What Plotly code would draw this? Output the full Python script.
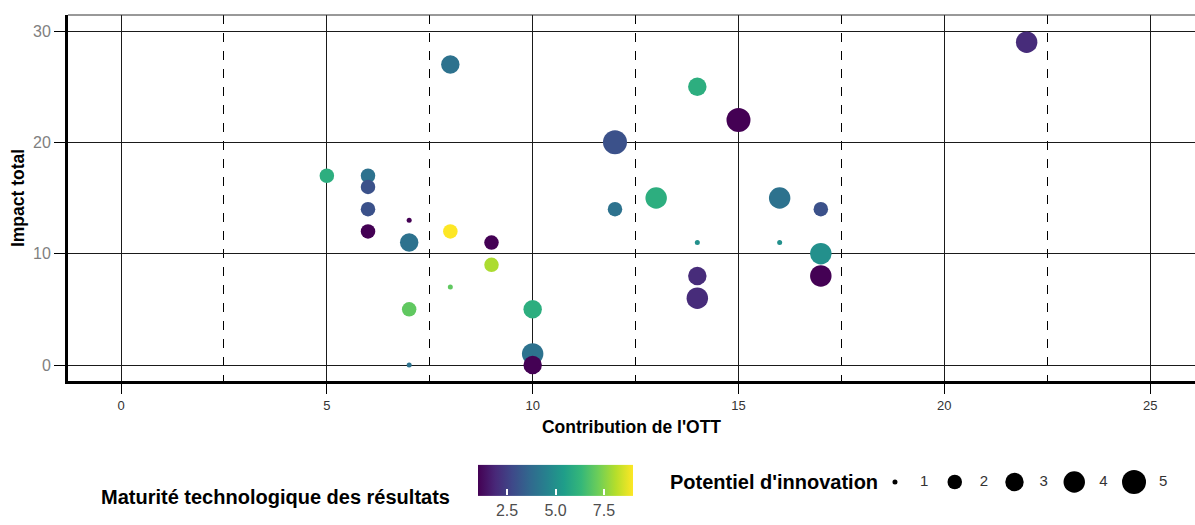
import numpy as np
import plotly.graph_objects as go

# ---------------- data ----------------
contribution = [5, 6, 6, 6, 6, 7, 7, 7, 7, 8, 8, 8, 9, 9, 10, 10, 10, 12, 12, 13, 14, 14, 14, 14, 15, 16, 16, 17, 17, 17, 22]
impact = [17, 17, 16, 14, 12, 13, 11, 5, 0, 27, 12, 7, 11, 9, 5, 1, 0, 20, 14, 15, 25, 11, 8, 6, 22, 15, 11, 14, 10, 8, 29]
innovation = [2, 2, 2, 2, 2, 1, 3, 2, 1, 3, 2, 1, 2, 2, 3, 4, 3, 5, 2, 4, 3, 1, 3, 4, 5, 4, 1, 2, 4, 4, 4]
maturity = [6, 4, 3, 3, 1, 1, 4, 7, 4, 4, 9, 7, 1, 8, 6, 4, 1, 3, 4, 6, 6, 5, 2, 2, 1, 4, 5, 3, 5, 1, 2]

size_levels = [1, 2, 3, 4, 5]
x_ticks = [0, 5, 10, 15, 20, 25]
y_ticks = [0, 10, 20, 30]
cb_ticks = [2.5, 5.0, 7.5]
cb_ticktext = ["2.5", "5.0", "7.5"]

x_title = "Contribution de l'OTT"
y_title = "Impact total"
color_title = "Maturité technologique des résultats"
size_title = "Potentiel d'innovation"

# ---------------- layout helpers ----------------
W, H = 1195, 525
ML, MR, MT, MB = 68, 0, 15, 5
PW, PH = W - ML - MR, H - MT - MB


def px_x(px):
    return (px - ML) / PW


def px_y(py):
    return (H - MB - py) / PH


def diam(v):
    v = np.asarray(v, dtype=float)
    return 5 + 19 * np.sqrt((v - 1) / 4)


FONT = "Liberation Sans, Arial, sans-serif"

fig = go.Figure()

fig.add_trace(go.Scatter(
    x=contribution, y=impact, mode="markers",
    marker=dict(
        size=diam(innovation), color=maturity, colorscale="Viridis",
        cmin=1, cmax=9, opacity=1, line=dict(width=0),
        colorbar=dict(
            orientation="h", x=px_x(555.5), xanchor="center",
            y=px_y(495), yanchor="middle",
            len=155, lenmode="pixels", thickness=31, thicknessmode="pixels",
            outlinewidth=0, xpad=0, ypad=0,
            tickvals=cb_ticks, ticktext=cb_ticktext,
            ticks="inside", ticklen=6, tickcolor="white", tickwidth=1.5,
            tickfont=dict(family=FONT, size=16, color="#4d4d4d"),
        ),
    ),
    showlegend=False, hoverinfo="skip",
))

# size legend (auxiliary axes)
fig.add_trace(go.Scatter(
    x=size_levels, y=[0] * len(size_levels), xaxis="x2", yaxis="y2",
    mode="markers",
    marker=dict(size=diam(size_levels), color="#000000", opacity=1, line=dict(width=0)),
    showlegend=False, hoverinfo="skip",
))
fig.add_trace(go.Scatter(
    x=[k + 0.49 for k in size_levels], y=[0] * len(size_levels), xaxis="x2", yaxis="y2",
    mode="text", text=[str(k) for k in size_levels], textposition="middle center",
    textfont=dict(family=FONT, size=15, color="#333333"),
    showlegend=False, hoverinfo="skip",
))

axis_common = dict(
    showgrid=True, gridcolor="#1a1a1a", gridwidth=1, zeroline=False,
    showline=True, linecolor="black", linewidth=3, automargin=False,
    ticks="outside", tickcolor="black", tickwidth=1,
)

fig.update_layout(
    width=W, height=H,
    margin=dict(l=ML, r=MR, t=MT, b=MB, autoexpand=False),
    paper_bgcolor="white", plot_bgcolor="white",
    font=dict(family=FONT),
    hovermode=False,
    xaxis=dict(
        **axis_common,
        range=[-1.288, 26.09], domain=[0, 1], anchor="y",
        tickvals=x_ticks, ticklen=10,
        tickfont=dict(family=FONT, size=13, color="#333333"),
        minor=dict(dtick=2.5, tick0=0, showgrid=True, griddash="dash",
                   gridcolor="black", gridwidth=1, ticks=""),
        title=dict(text="<b>" + x_title + "</b>", font=dict(family=FONT, size=17.5, color="black"),
                   standoff=10),
    ),
    yaxis=dict(
        **axis_common,
        range=[-1.437, 31.44], domain=[px_y(381), 1], anchor="x",
        tickvals=y_ticks, ticklen=11,
        tickfont=dict(family=FONT, size=16, color="#7f7f7f"),
        title=dict(text="<b>" + y_title + "</b>", font=dict(family=FONT, size=17.5, color="black"),
                   standoff=4),
    ),
    xaxis2=dict(domain=[px_x(866), px_x(1190)], range=[0.515, 5.937], anchor="y2",
                visible=False, fixedrange=True, automargin=False),
    yaxis2=dict(domain=[px_y(494), px_y(470)], range=[-1, 1], anchor="x2",
                visible=False, fixedrange=True, automargin=False),
    shapes=[dict(type="line", xref="paper", yref="paper", x0=0, x1=1, y0=1, y1=1,
                 line=dict(color="#333333", width=1))],
    annotations=[
        dict(text="<b>" + color_title + "</b>", xref="paper", yref="paper",
             x=px_x(452), y=px_y(497), xanchor="right", yanchor="middle",
             showarrow=False, font=dict(family=FONT, size=20, color="black")),
        dict(text="<b>" + size_title + "</b>", xref="paper", yref="paper",
             x=px_x(880), y=px_y(482), xanchor="right", yanchor="middle",
             showarrow=False, font=dict(family=FONT, size=20, color="black")),
    ],
)

fig.write_html("out.html", config={"displayModeBar": False},
               post_script="document.body.style.margin='0px';")
